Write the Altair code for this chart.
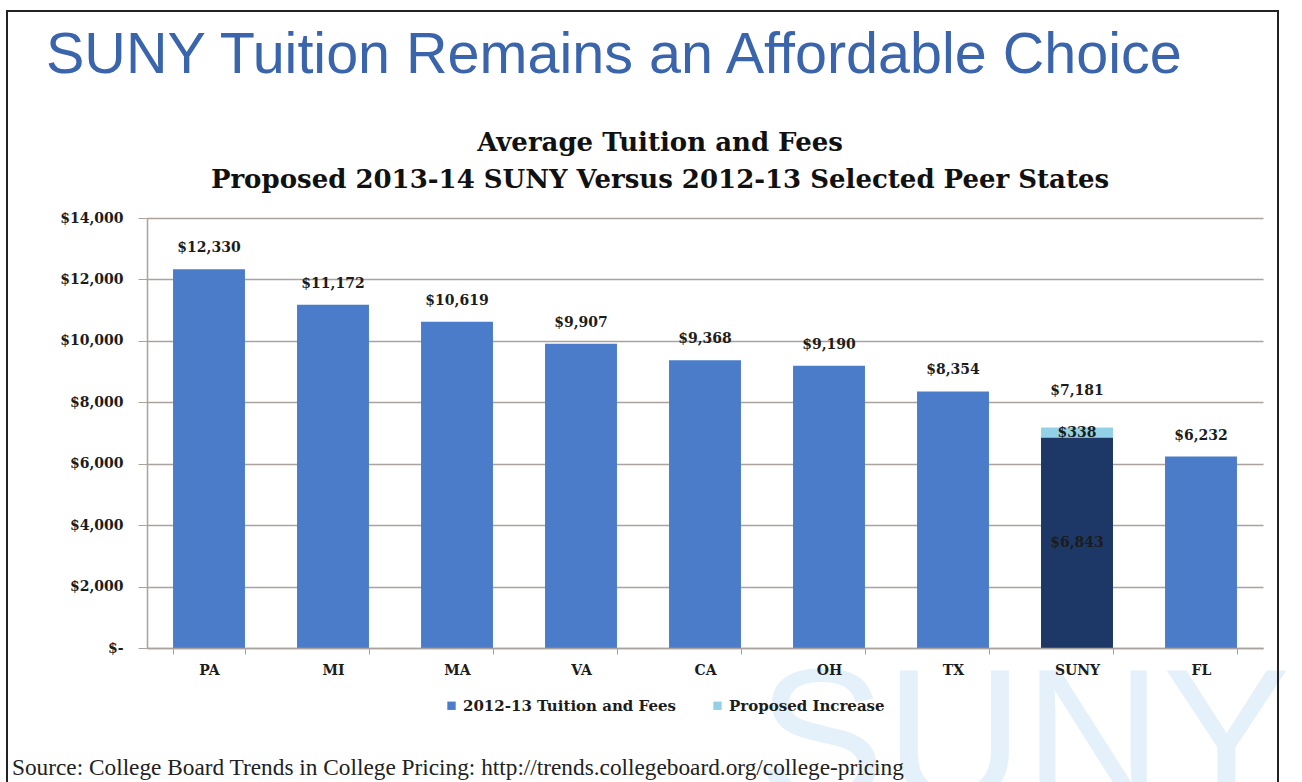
import altair as alt
import pandas as pd

# ---- data ----
states = ["PA", "MI", "MA", "VA", "CA", "OH", "TX", "SUNY", "FL"]
base_fees = [12330, 11172, 10619, 9907, 9368, 9190, 8354, 6843, 6232]
increase = [0, 0, 0, 0, 0, 0, 0, 338, 0]
series_names = ["2012-13 Tuition and Fees", "Proposed Increase"]
y_ticks = [0, 2000, 4000, 6000, 8000, 10000, 12000, 14000]

title_text = "SUNY Tuition Remains an Affordable Choice"
chart_title = ["Average Tuition and Fees",
               "Proposed 2013-14 SUNY Versus 2012-13 Selected Peer States"]
source_text = "Source: College Board Trends in College Pricing: http://trends.collegeboard.org/college-pricing"

# ---- styling ----
BLUE = "#4a7cc9"
NAVY = "#1d3866"
CYAN = "#93d2e6"
GRID = "#aaa29b"
LABEL = "#1c1c1c"
SERIF = "DejaVu Serif"
W, H = 1116, 430
PAD = {"left": 147, "top": 218, "right": 39, "bottom": 134}

wide = pd.DataFrame({"state": states, "base": base_fees, "inc": increase})
wide["total"] = wide["base"] + wide["inc"]

rows = []
for s, b, i in zip(states, base_fees, increase):
    rows.append({"state": s, "series": series_names[0], "start": 0, "end": b})
    if i > 0:
        rows.append({"state": s, "series": series_names[1], "start": b, "end": b + i})
long = pd.DataFrame(rows)

x_enc = alt.X("state:N", sort=states, title=None,
              scale=alt.Scale(paddingInner=0.42, paddingOuter=0.21),
              axis=alt.Axis(labelFont=SERIF, labelFontWeight="bold", labelFontSize=14,
                            labelColor=LABEL, labelAngle=0, labelPadding=9,
                            tickBand="extent", tickSize=6, tickColor=GRID,
                            domainColor=GRID, domainWidth=1.5, grid=False, zindex=1))
y_scale = alt.Scale(domain=[0, 14000], nice=False)
y_axis = alt.Axis(values=y_ticks, title=None,
                  labelExpr="datum.value == 0 ? '$-' : '$' + format(datum.value, ',')",
                  labelFont=SERIF, labelFontWeight="bold", labelFontSize=14,
                  labelColor=LABEL, labelPadding=15, tickSize=9, tickColor=GRID,
                  domainColor=GRID, domainWidth=1.5, gridColor=GRID, gridWidth=1.5)


def note(text, x, y, **kw):
    return alt.Chart(pd.DataFrame({"t": [text]})).mark_text(**kw).encode(
        x=alt.value(x), y=alt.value(y), text="t:N")


watermark = note("SUNY", 610, 584, font="Liberation Sans", fontSize=192,
                 color="#e4f1fa", align="left", baseline="alphabetic")

frame = alt.Chart(pd.DataFrame({"a": [0]})).mark_rect(
    fillOpacity=0, stroke="#222222", strokeWidth=2).encode(
    x=alt.value(-140), x2=alt.value(1131), y=alt.value(-207), y2=alt.value(600))

bars = alt.Chart(long).mark_bar().encode(
    x=x_enc,
    y=alt.Y("end:Q", scale=y_scale, axis=y_axis),
    y2="start:Q",
    color=alt.Color("series:N", scale=alt.Scale(domain=series_names, range=[BLUE, CYAN]),
                    legend=alt.Legend(orient="none", legendX=297, legendY=480,
                                      direction="horizontal", title=None,
                                      symbolType="square", symbolSize=70,
                                      symbolStrokeWidth=0, labelFont=SERIF,
                                      labelFontWeight="bold", labelFontSize=15,
                                      labelColor=LABEL, labelOffset=4, labelLimit=400,
                                      columnPadding=34)),
)

suny_bar = alt.Chart(wide).mark_bar(color=NAVY).transform_filter(
    alt.datum.inc > 0).encode(x=alt.X("state:N", sort=states), y=alt.Y("base:Q", scale=y_scale))

lab_kw = dict(font=SERIF, fontWeight="bold", fontSize=14, color=LABEL, baseline="middle")

top_labels = alt.Chart(wide).mark_text(dy=-21, **lab_kw).transform_filter(
    alt.datum.inc == 0).encode(
    x=alt.X("state:N", sort=states), y=alt.Y("total:Q", scale=y_scale),
    text=alt.Text("total:Q", format="$,"))

suny_total = alt.Chart(wide).mark_text(dy=-36, **lab_kw).transform_filter(
    alt.datum.inc > 0).encode(
    x=alt.X("state:N", sort=states), y=alt.Y("total:Q", scale=y_scale),
    text=alt.Text("total:Q", format="$,"))

suny_inc = alt.Chart(wide).transform_filter(alt.datum.inc > 0).transform_calculate(
    mid="datum.base + datum.inc / 2").mark_text(**lab_kw).encode(
    x=alt.X("state:N", sort=states), y=alt.Y("mid:Q", scale=y_scale),
    text=alt.Text("inc:Q", format="$,"))

suny_base = alt.Chart(wide).transform_filter(alt.datum.inc > 0).transform_calculate(
    mid="datum.base / 2").mark_text(**lab_kw).encode(
    x=alt.X("state:N", sort=states), y=alt.Y("mid:Q", scale=y_scale),
    text=alt.Text("base:Q", format="$,"))

main_title = note(title_text, -101, -145, font="Liberation Sans", fontSize=57.5,
                  color="#3a65ad", align="left", baseline="alphabetic")
sub1 = note(chart_title[0], 513, -75, font=SERIF, fontWeight="bold", fontSize=26,
            color="#111111", align="center", baseline="middle")
sub2 = note(chart_title[1], 513, -38, font=SERIF, fontWeight="bold", fontSize=26,
            color="#111111", align="center", baseline="middle")
source = note(source_text, -135, 557, font="Liberation Serif", fontSize=23.3,
              color="#222222", align="left", baseline="alphabetic")

chart = alt.layer(
    watermark, frame, bars, suny_bar, top_labels, suny_total, suny_inc, suny_base,
    main_title, sub1, sub2, source
).properties(
    width=W, height=H,
    autosize=alt.AutoSizeParams(type="none"),
    padding=PAD,
    background="white",
).configure_view(stroke=None)

chart.save("out.html", embed_options={"renderer": "svg", "actions": False})
